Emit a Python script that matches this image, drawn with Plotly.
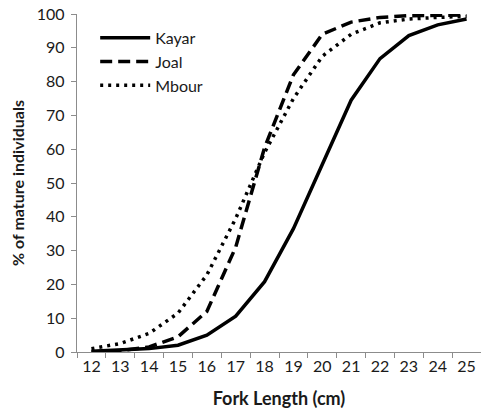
import plotly.graph_objects as go

lengths = [str(v) for v in range(12, 26)]
kayar = [0.2, 0.5, 1.0, 2.0, 5.0, 10.6, 20.8, 36.5, 55.5, 74.5, 86.8, 93.6, 96.8, 98.5]
joal = [0.0, 0.4, 1.5, 4.5, 12.0, 31.0, 60.5, 82.0, 94.0, 97.6, 99.0, 99.5, 99.6, 99.7]
mbour = [1.0, 2.5, 5.5, 11.5, 22.8, 39.5, 59.0, 75.0, 87.5, 94.0, 97.4, 98.5, 99.0, 99.3]
y_ticks = list(range(0, 101, 10))

fig = go.Figure()
fig.add_trace(go.Scatter(x=lengths, y=kayar, name="Kayar", mode="lines",
                         line=dict(color="black", width=3.5)))
fig.add_trace(go.Scatter(x=lengths, y=joal, name="Joal", mode="lines",
                         line=dict(color="black", width=3.5, dash="12px,6px")))
fig.add_trace(go.Scatter(x=lengths, y=mbour, name="Mbour", mode="lines",
                         line=dict(color="black", width=3.5, dash="3px,5px")))

font = "Lato, 'Open Sans', sans-serif"
fig.update_layout(
    width=481, height=414,
    margin=dict(l=77, r=0, t=14, b=62, autoexpand=False),
    paper_bgcolor="white", plot_bgcolor="white",
    font=dict(family=font, size=16, color="#1a1a1a"),
    showlegend=True,
    legend=dict(x=0.045, y=0.98, xanchor="left", yanchor="top",
                bgcolor="rgba(0,0,0,0)", font=dict(size=16),
                tracegroupgap=0, itemwidth=50),
    xaxis=dict(type="category", tickson="boundaries", range=[-0.5, 13.5],
               showline=True, linecolor="#8c8c8c", linewidth=1.3,
               ticks="outside", ticklen=5, tickcolor="#8c8c8c",
               showgrid=False, zeroline=False, automargin=False,
               title=dict(text="<b>Fork Length (cm)</b>", font=dict(size=18), standoff=18),
               tickfont=dict(size=16)),
    yaxis=dict(range=[0, 100], tickvals=y_ticks, showline=True,
               linecolor="#8c8c8c", linewidth=1.3, ticks="outside", ticklen=5,
               tickcolor="#8c8c8c", showgrid=False, zeroline=False,
               ticklabelstandoff=3, automargin=False,
               title=dict(text="<b>% of mature individuals</b>", font=dict(size=16), standoff=8),
               tickfont=dict(size=16)),
)
fig.write_html("out.html", config={"displayModeBar": False},
               post_script="document.body.style.margin='0';document.body.style.padding='0';")
